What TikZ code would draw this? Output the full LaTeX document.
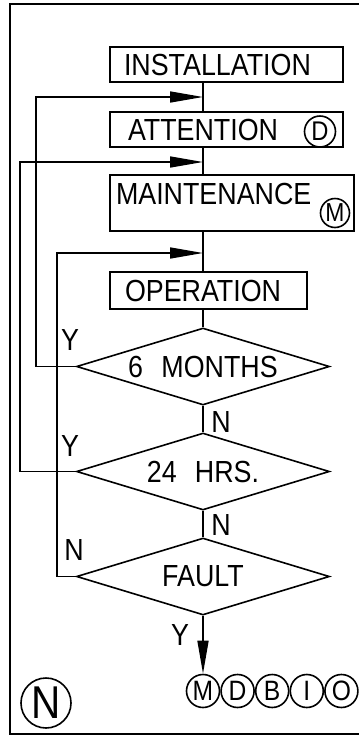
\documentclass[tikz,border=0pt]{standalone}
\usepackage{fontspec}
\setmainfont{Liberation Sans}[FakeStretch=0.88]
\usetikzlibrary{arrows.meta,shapes.geometric,positioning}
\begin{document}
\begin{tikzpicture}[x=1pt, y=-1pt, line width=1.6pt, >={Triangle[length=33pt,width=11pt]},
	font=\fontsize{30.5pt}{32pt}\selectfont,
	procbox/.style={draw, rectangle, align=left, inner ysep=2pt},
	decision/.style={draw, diamond, aspect=3.3, inner sep=0pt, minimum width=253pt, minimum height=77pt},
	letter/.style={draw, circle, inner sep=0pt, minimum size=#1, font=\fontsize{28pt}{30pt}\selectfont},
	lbl/.style={inner sep=0pt}]
	\useasboundingbox (0,0) rectangle (359,737);
	\draw (362,4) -- (10,4) -- (10,734) -- (362,734);
	\coordinate (axis) at (203,0);
	\coordinate (in1) at (203,97);
	\coordinate (in2) at (203,162);
	\coordinate (in3) at (203,253);
	\node[procbox, text width=205pt, inner xsep=14pt, minimum height=35pt] (inst) at (226.5,64.5) {INSTALLATION};
	\node[procbox, text width=197pt, inner xsep=18pt, minimum height=35pt] (att) at (226.5,129.5) {ATTENTION};
	\node[procbox, text width=232pt, inner xsep=6pt, minimum height=56pt, text depth=19pt] (maint) at (232,203) {MAINTENANCE};
	\node[procbox, text width=167pt, inner xsep=15pt, minimum height=37pt] (oper) at (208.5,290.5) {OPERATION};
	\node[letter=31pt, font=\fontsize{27pt}{28pt}\selectfont] (dcirc) at (320,131.5) {D};
	\node[letter=29pt, font=\fontsize{26pt}{28pt}\selectfont] (mcirc) at (335,213) {M};
	\node[decision] (sixm) at (203,366.5) {6\hspace{0.6em}MONTHS};
	\node[decision] (hrs) at (203,471.5) {24\hspace{0.6em}HRS.};
	\node[decision] (fault) at (203,576.5) {FAULT};
	\node[letter=33pt] (outm) at (203,691) {M};
	\node[letter=33pt, right=0pt of outm] (outd) {D};
	\node[letter=33pt, right=0pt of outd] (outb) {B};
	\node[letter=33pt, right=0pt of outb] (outi) {I};
	\node[letter=33pt, right=0pt of outi] (outo) {O};
	\node[letter=50pt, font=\fontsize{46pt}{48pt}\selectfont] (normal) at (46,703) {N};
	\draw (inst.south -| axis) -- (att.north -| axis);
	\draw (att.south -| axis) -- (maint.north -| axis);
	\draw (maint.south -| axis) -- (oper.north -| axis);
	\draw (oper.south -| axis) -- (sixm.north);
	\draw (sixm.south) -- (hrs.north);
	\draw (hrs.south) -- (fault.north);
	\draw[->] (fault.south) -- (outm.north);
	\draw[->] (sixm.west) -- ++(-40,0) |- (in1);
	\draw[->] (hrs.west) -- ++(-56,0) |- (in2);
	\draw[->] (fault.west) -- ++(-19,0) |- (in3);
	\node[lbl] (ysix) at (70,340) {Y};
	\node[lbl] (nsix) at (221,422) {N};
	\node[lbl] (yhrs) at (70,446) {Y};
	\node[lbl] (nhrs) at (221,525) {N};
	\node[lbl] (nfault) at (74,550) {N};
	\node[lbl] (yfault) at (180,635) {Y};
\end{tikzpicture}
\end{document}
